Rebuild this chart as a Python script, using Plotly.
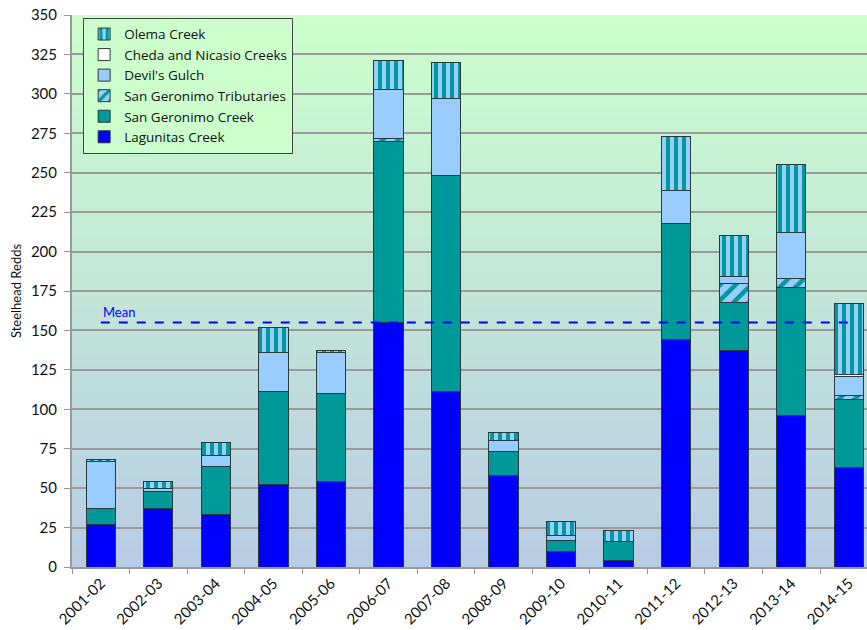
import plotly.graph_objects as go

seasons = ["2001-02", "2002-03", "2003-04", "2004-05", "2005-06", "2006-07", "2007-08",
           "2008-09", "2009-10", "2010-11", "2011-12", "2012-13", "2013-14", "2014-15"]
lagunitas = [27, 37, 33, 52, 54, 155, 111, 58, 10, 4, 144, 137, 96, 63]
san_geronimo = [10, 11, 31, 59, 56, 115, 137, 15, 7, 12, 74, 31, 81, 43]
sg_tributaries = [0, 0, 0, 0, 0, 2, 0, 0, 0, 0, 0, 12, 6, 3]
devils_gulch = [30, 2, 7, 25, 26, 31, 49, 7, 3, 0, 21, 4, 29, 12]
cheda_nicasio = [0, 0, 0, 0, 0, 0, 0, 0, 0, 0, 0, 0, 0, 1]
olema = [1, 4, 8, 16, 1, 18, 23, 5, 9, 7, 34, 26, 43, 45]
mean_value = 155
y_ticks = list(range(0, 351, 25))

TEAL = "#009999"
LIGHTBLUE = "#99CCFF"
EDGE = "#2a3a3a"
FONT = "Lato, 'Open Sans', sans-serif"

fig = go.Figure()
fig.add_trace(go.Bar(x=seasons, y=lagunitas, name="Lagunitas Creek",
                     marker=dict(color="#0000FF", line=dict(color=EDGE, width=1))))
fig.add_trace(go.Bar(x=seasons, y=san_geronimo, name="San Geronimo Creek",
                     marker=dict(color=TEAL, line=dict(color=EDGE, width=1))))
fig.add_trace(go.Bar(x=seasons, y=sg_tributaries, name="San Geronimo Tributaries",
                     marker=dict(color=LIGHTBLUE, line=dict(color=EDGE, width=1),
                                 pattern=dict(shape="/", fgcolor=TEAL, bgcolor=LIGHTBLUE,
                                              fgopacity=1, size=11, solidity=0.4))))
fig.add_trace(go.Bar(x=seasons, y=devils_gulch, name="Devil's Gulch",
                     marker=dict(color=LIGHTBLUE, line=dict(color=EDGE, width=1))))
fig.add_trace(go.Bar(x=seasons, y=cheda_nicasio, name="Cheda and Nicasio Creeks",
                     marker=dict(color="#FFFFFF", line=dict(color=EDGE, width=1))))
fig.add_trace(go.Bar(x=seasons, y=olema, name="Olema Creek",
                     marker=dict(color=LIGHTBLUE, line=dict(color=EDGE, width=1),
                                 pattern=dict(shape="|", fgcolor=TEAL, bgcolor=LIGHTBLUE,
                                              fgopacity=1, size=8, solidity=0.5))))
fig.add_trace(go.Scatter(x=seasons, y=[mean_value] * len(seasons), mode="lines",
                         line=dict(color="#0000FF", width=2, dash="dash"),
                         showlegend=False, hoverinfo="skip"))

# gradient background
shapes = []
N = 60
top = (0xCC, 0xFF, 0xCC)
bot = (0xB8, 0xCC, 0xE4)
for i in range(N):
    t = (i + 0.5) / N
    c = tuple(round(bot[k] + (top[k] - bot[k]) * t) for k in range(3))
    shapes.append(dict(type="rect", xref="paper", yref="paper", x0=0, x1=1,
                       y0=i / N, y1=min(1, (i + 1) / N + 0.01), layer="below", line=dict(width=0),
                       fillcolor="rgb(%d,%d,%d)" % c))

fig.update_layout(
    width=867, height=630,
    margin=dict(l=72, r=0, t=15, b=63),
    paper_bgcolor="white",
    plot_bgcolor="rgba(0,0,0,0)",
    barmode="stack",
    bargap=0.49,
    shapes=shapes,
    font=dict(family=FONT, color="#222222"),
    showlegend=True,
    legend=dict(x=0.014, y=0.995, xanchor="left", yanchor="top",
                traceorder="reversed", bgcolor="#CCFFCC", bordercolor="#444444",
                borderwidth=1, font=dict(size=13.5, family="'Open Sans', sans-serif", color="#111111"),
                itemwidth=30, tracegroupgap=0),
    annotations=[dict(x=0, y=mean_value, xref="x", yref="y", text="Mean",
                      showarrow=False, xanchor="left", yanchor="bottom", yshift=1,
                      font=dict(color="#0000FF", size=13, family=FONT))],
)
fig.update_xaxes(type="category", range=[-0.5, 13.316], tickangle=-45, ticks="outside",
                 tickson="boundaries", automargin=False,
                 ticklen=5, tickcolor="#999999", showline=True, linecolor="#999999",
                 linewidth=1.5, showgrid=False, tickfont=dict(size=15, family=FONT, color="#111111"))
fig.update_yaxes(range=[0, 350], tickvals=y_ticks, ticks="outside", ticklen=6, automargin=False,
                 ticklabelstandoff=4, ticklabeloverflow="allow",
                 tickcolor="#999999", showline=True, linecolor="#999999", linewidth=2,
                 gridcolor="#9a9a9a", gridwidth=1.5, zeroline=False,
                 tickfont=dict(size=15, family=FONT, color="#111111"),
                 title=dict(text="Steelhead Redds", font=dict(size=13, family=FONT, color="#111111"),
                            standoff=6))

fig.write_html("out.html", config={"displayModeBar": False},
               post_script="document.body.style.margin='0';")
